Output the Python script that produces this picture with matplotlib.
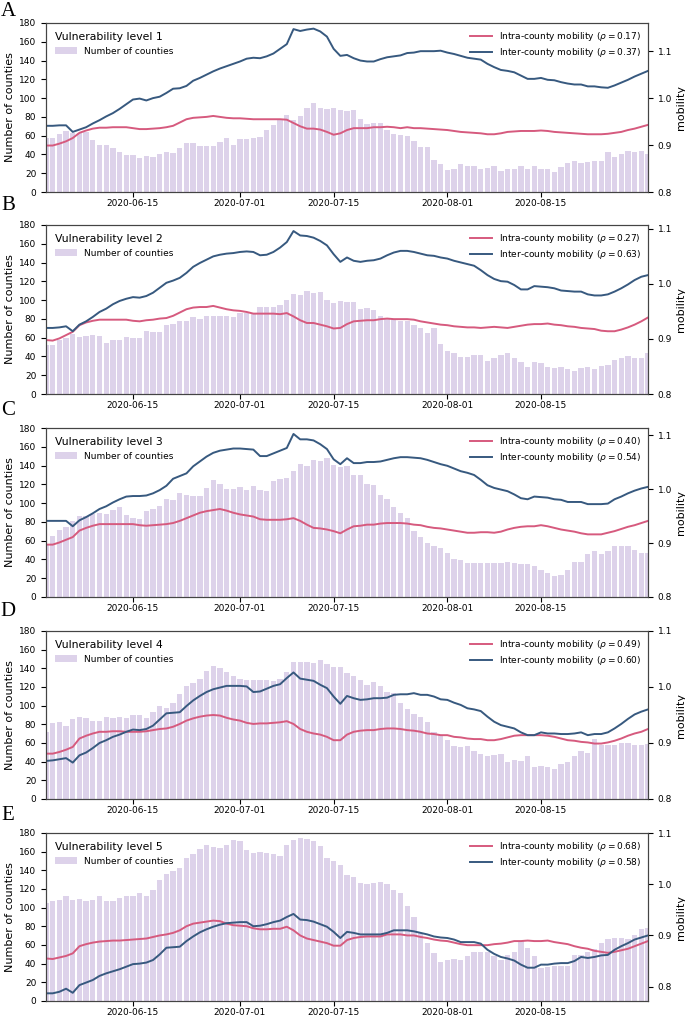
import numpy as np
import pandas as pd
import matplotlib
matplotlib.use("Agg")
import matplotlib.pyplot as plt
import matplotlib.dates as mdates

dates = pd.date_range("2020-06-02", "2020-08-31", freq="D")

# level 1
A_bars = [58, 58, 62, 65, 63, 63, 64, 55, 50, 50,
          47, 43, 39, 39, 36, 38, 37, 40, 43, 42,
          47, 52, 52, 49, 49, 49, 53, 58, 50, 56,
          56, 58, 59, 66, 71, 77, 82, 77, 81, 90,
          95, 89, 88, 89, 87, 86, 87, 78, 72, 74,
          74, 66, 62, 61, 60, 54, 48, 48, 34, 30,
          23, 25, 30, 28, 28, 24, 26, 28, 22, 24,
          25, 28, 25, 28, 25, 25, 21, 27, 31, 33,
          31, 32, 33, 33, 43, 37, 40, 44, 43, 44,
          41]
A_intra = [0.899, 0.899, 0.903, 0.908, 0.915, 0.926, 0.931, 0.935, 0.937, 0.937,
           0.938, 0.938, 0.938, 0.936, 0.934, 0.934, 0.935, 0.936, 0.938, 0.941,
           0.948, 0.955, 0.958, 0.959, 0.960, 0.962, 0.960, 0.958, 0.957, 0.957,
           0.956, 0.955, 0.955, 0.955, 0.955, 0.955, 0.954, 0.947, 0.940, 0.935,
           0.935, 0.933, 0.928, 0.922, 0.925, 0.932, 0.936, 0.936, 0.936, 0.938,
           0.938, 0.939, 0.938, 0.936, 0.938, 0.936, 0.936, 0.935, 0.934, 0.933,
           0.932, 0.930, 0.928, 0.927, 0.926, 0.925, 0.923, 0.923, 0.925, 0.928,
           0.929, 0.930, 0.930, 0.930, 0.931, 0.930, 0.928, 0.927, 0.926, 0.925,
           0.924, 0.923, 0.923, 0.923, 0.924, 0.926, 0.928, 0.932, 0.935, 0.939,
           0.943]
A_inter = [0.941, 0.941, 0.942, 0.942, 0.928, 0.933, 0.938, 0.946, 0.953, 0.961,
           0.968, 0.977, 0.987, 0.997, 0.999, 0.995, 1.000, 1.003, 1.011, 1.020,
           1.021, 1.026, 1.037, 1.043, 1.050, 1.057, 1.063, 1.068, 1.073, 1.078,
           1.084, 1.086, 1.085, 1.089, 1.095, 1.105, 1.115, 1.147, 1.143, 1.146,
           1.148, 1.142, 1.131, 1.105, 1.090, 1.092, 1.085, 1.080, 1.078, 1.078,
           1.083, 1.087, 1.089, 1.091, 1.096, 1.097, 1.100, 1.100, 1.100, 1.101,
           1.097, 1.094, 1.090, 1.086, 1.084, 1.082, 1.073, 1.066, 1.060, 1.058,
           1.055, 1.048, 1.041, 1.041, 1.043, 1.039, 1.038, 1.034, 1.031, 1.029,
           1.029, 1.025, 1.025, 1.023, 1.022, 1.027, 1.033, 1.039, 1.046, 1.052,
           1.058]

# level 2
B_bars = [52, 52, 57, 60, 64, 61, 62, 63, 62, 54,
          57, 58, 61, 60, 60, 67, 66, 66, 73, 75,
          78, 78, 82, 80, 83, 83, 83, 83, 82, 86,
          86, 85, 93, 93, 93, 95, 100, 106, 105, 110,
          108, 109, 100, 97, 99, 98, 98, 91, 92, 90,
          83, 81, 80, 78, 78, 74, 70, 65, 70, 53,
          46, 44, 39, 39, 42, 42, 35, 38, 42, 44,
          38, 34, 29, 34, 33, 29, 28, 29, 27, 25,
          28, 29, 27, 30, 31, 36, 38, 41, 38, 38,
          44]
B_intra = [0.898, 0.897, 0.901, 0.907, 0.913, 0.925, 0.930, 0.933, 0.935, 0.935,
           0.935, 0.935, 0.935, 0.933, 0.932, 0.934, 0.935, 0.937, 0.938, 0.942,
           0.948, 0.954, 0.957, 0.958, 0.958, 0.960, 0.957, 0.954, 0.952, 0.951,
           0.949, 0.946, 0.946, 0.946, 0.946, 0.945, 0.947, 0.941, 0.934, 0.929,
           0.929, 0.926, 0.923, 0.919, 0.920, 0.927, 0.932, 0.933, 0.934, 0.934,
           0.936, 0.937, 0.936, 0.936, 0.936, 0.935, 0.932, 0.930, 0.928, 0.926,
           0.925, 0.923, 0.922, 0.921, 0.921, 0.920, 0.921, 0.922, 0.921, 0.920,
           0.922, 0.924, 0.926, 0.927, 0.927, 0.928, 0.926, 0.925, 0.923, 0.922,
           0.920, 0.919, 0.918, 0.915, 0.914, 0.914, 0.917, 0.921, 0.926, 0.932,
           0.939]
B_inter = [0.920, 0.920, 0.921, 0.923, 0.914, 0.926, 0.932, 0.940, 0.949, 0.955,
           0.963, 0.969, 0.973, 0.976, 0.975, 0.978, 0.984, 0.993, 1.002, 1.006,
           1.011, 1.020, 1.031, 1.038, 1.044, 1.050, 1.053, 1.055, 1.056, 1.058,
           1.059, 1.058, 1.052, 1.053, 1.058, 1.066, 1.076, 1.096, 1.088, 1.087,
           1.084, 1.078, 1.070, 1.054, 1.040, 1.048, 1.042, 1.040, 1.042, 1.043,
           1.046, 1.052, 1.057, 1.060, 1.060, 1.058, 1.055, 1.052, 1.051, 1.048,
           1.046, 1.042, 1.039, 1.036, 1.033, 1.025, 1.016, 1.009, 1.005, 1.004,
           0.998, 0.990, 0.990, 0.996, 0.995, 0.994, 0.992, 0.988, 0.987, 0.986,
           0.986, 0.981, 0.979, 0.979, 0.981, 0.986, 0.992, 0.999, 1.007, 1.013,
           1.016]

# level 3
C_bars = [56, 65, 71, 75, 81, 86, 86, 88, 90, 88,
          93, 96, 87, 84, 83, 92, 94, 97, 104, 103,
          111, 109, 108, 108, 116, 125, 120, 115, 115, 117,
          114, 118, 114, 113, 124, 126, 127, 134, 142, 140,
          146, 145, 148, 141, 138, 139, 130, 130, 120, 119,
          109, 104, 96, 90, 84, 70, 64, 58, 54, 52,
          47, 41, 39, 36, 36, 36, 36, 36, 36, 37,
          36, 35, 35, 33, 29, 26, 22, 23, 29, 37,
          37, 46, 49, 46, 49, 54, 54, 54, 50, 47,
          47]
C_intra = [0.897, 0.897, 0.901, 0.906, 0.911, 0.923, 0.928, 0.932, 0.935, 0.935,
           0.935, 0.935, 0.935, 0.935, 0.933, 0.932, 0.933, 0.934, 0.935, 0.937,
           0.941, 0.946, 0.951, 0.956, 0.959, 0.961, 0.963, 0.960, 0.956, 0.953,
           0.951, 0.949, 0.944, 0.943, 0.943, 0.943, 0.944, 0.946, 0.941, 0.934,
           0.928, 0.927, 0.925, 0.922, 0.918, 0.925, 0.931, 0.932, 0.934, 0.934,
           0.936, 0.937, 0.937, 0.937, 0.936, 0.934, 0.933, 0.930, 0.928, 0.927,
           0.925, 0.923, 0.921, 0.919, 0.919, 0.920, 0.920, 0.919, 0.921, 0.925,
           0.928, 0.930, 0.931, 0.931, 0.933, 0.931, 0.928, 0.925, 0.923, 0.921,
           0.918, 0.916, 0.916, 0.916, 0.919, 0.922, 0.926, 0.930, 0.933, 0.937,
           0.941]
C_inter = [0.941, 0.941, 0.941, 0.941, 0.931, 0.942, 0.948, 0.955, 0.963, 0.968,
           0.975, 0.981, 0.986, 0.987, 0.987, 0.988, 0.992, 0.998, 1.006, 1.019,
           1.024, 1.029, 1.042, 1.051, 1.060, 1.067, 1.071, 1.073, 1.075, 1.075,
           1.074, 1.073, 1.061, 1.061, 1.066, 1.071, 1.076, 1.102, 1.092, 1.092,
           1.090, 1.083, 1.074, 1.055, 1.046, 1.057, 1.048, 1.048, 1.050, 1.050,
           1.051, 1.054, 1.057, 1.059, 1.059, 1.058, 1.057, 1.054, 1.050, 1.046,
           1.043, 1.038, 1.033, 1.030, 1.026, 1.017, 1.007, 1.002, 0.999, 0.996,
           0.990, 0.983, 0.981, 0.986, 0.985, 0.984, 0.981, 0.980, 0.976, 0.976,
           0.976, 0.972, 0.972, 0.972, 0.973, 0.981, 0.986, 0.992, 0.997, 1.001,
           1.004]

# level 4
D_bars = [72, 81, 83, 78, 86, 88, 87, 84, 84, 88,
          87, 88, 87, 90, 90, 87, 93, 100, 97, 103,
          113, 121, 124, 129, 137, 143, 140, 136, 132, 129,
          128, 128, 127, 127, 126, 129, 136, 147, 147, 147,
          146, 149, 145, 141, 141, 135, 132, 128, 122, 125,
          121, 115, 114, 103, 96, 91, 88, 83, 72, 69,
          63, 57, 56, 57, 51, 48, 46, 47, 48, 40,
          42, 41, 46, 34, 35, 34, 32, 38, 40, 46,
          51, 49, 64, 58, 58, 58, 60, 60, 58, 58,
          59]
D_intra = [0.881, 0.881, 0.884, 0.888, 0.893, 0.908, 0.913, 0.917, 0.920, 0.920,
           0.921, 0.921, 0.920, 0.920, 0.920, 0.921, 0.923, 0.925, 0.926, 0.929,
           0.934, 0.940, 0.944, 0.947, 0.949, 0.950, 0.949, 0.945, 0.942, 0.940,
           0.936, 0.934, 0.935, 0.935, 0.936, 0.937, 0.939, 0.934, 0.925, 0.920,
           0.917, 0.915, 0.911, 0.905, 0.905, 0.915, 0.920, 0.922, 0.923, 0.923,
           0.925, 0.926, 0.926, 0.925, 0.923, 0.922, 0.920, 0.917, 0.916, 0.914,
           0.914, 0.911, 0.910, 0.908, 0.907, 0.907, 0.905, 0.905, 0.907, 0.910,
           0.913, 0.914, 0.914, 0.914, 0.914, 0.913, 0.911, 0.908, 0.905, 0.904,
           0.902, 0.901, 0.899, 0.899, 0.901, 0.904, 0.908, 0.913, 0.917, 0.920,
           0.925]
D_inter = [0.868, 0.869, 0.871, 0.873, 0.865, 0.878, 0.883, 0.891, 0.900, 0.905,
           0.911, 0.915, 0.920, 0.924, 0.923, 0.925, 0.931, 0.942, 0.953, 0.954,
           0.955, 0.966, 0.976, 0.984, 0.991, 0.996, 0.999, 1.002, 1.002, 1.002,
           1.001, 0.991, 0.992, 0.997, 1.002, 1.005, 1.016, 1.026, 1.015, 1.013,
           1.011, 1.004, 0.998, 0.983, 0.970, 0.984, 0.980, 0.977, 0.978, 0.980,
           0.980, 0.981, 0.986, 0.987, 0.987, 0.989, 0.986, 0.986, 0.983, 0.978,
           0.977, 0.972, 0.968, 0.962, 0.960, 0.957, 0.947, 0.938, 0.932, 0.929,
           0.926, 0.919, 0.914, 0.914, 0.919, 0.917, 0.917, 0.916, 0.916, 0.917,
           0.919, 0.914, 0.916, 0.916, 0.919, 0.926, 0.934, 0.943, 0.951, 0.956,
           0.960]

# level 5
E_bars = [105, 107, 108, 112, 108, 109, 107, 108, 112, 107,
          107, 110, 112, 112, 116, 113, 119, 130, 136, 139,
          142, 153, 158, 163, 167, 165, 164, 167, 172, 171,
          162, 159, 160, 159, 158, 155, 167, 173, 175, 174,
          171, 166, 153, 150, 146, 135, 133, 126, 125, 126,
          127, 125, 119, 116, 102, 90, 73, 62, 51, 42,
          44, 45, 44, 48, 52, 52, 52, 48, 44, 49,
          53, 64, 57, 48, 35, 36, 37, 38, 37, 49,
          49, 53, 56, 62, 66, 68, 68, 66, 71, 77,
          78]
E_intra = [0.855, 0.854, 0.857, 0.860, 0.865, 0.879, 0.883, 0.886, 0.888, 0.889,
           0.890, 0.890, 0.891, 0.892, 0.893, 0.894, 0.897, 0.900, 0.902, 0.905,
           0.910, 0.918, 0.923, 0.925, 0.927, 0.929, 0.928, 0.923, 0.920, 0.919,
           0.918, 0.914, 0.912, 0.912, 0.913, 0.913, 0.917, 0.910, 0.900, 0.894,
           0.891, 0.888, 0.885, 0.880, 0.880, 0.891, 0.895, 0.897, 0.898, 0.898,
           0.898, 0.902, 0.902, 0.902, 0.900, 0.900, 0.897, 0.895, 0.892, 0.890,
           0.889, 0.886, 0.883, 0.881, 0.881, 0.881, 0.881, 0.883, 0.884, 0.886,
           0.889, 0.889, 0.890, 0.889, 0.889, 0.890, 0.887, 0.885, 0.883, 0.879,
           0.876, 0.874, 0.870, 0.868, 0.866, 0.868, 0.871, 0.874, 0.879, 0.884,
           0.889]
E_inter = [0.787, 0.787, 0.790, 0.796, 0.788, 0.803, 0.808, 0.813, 0.821, 0.826,
           0.830, 0.834, 0.839, 0.844, 0.845, 0.847, 0.852, 0.863, 0.876, 0.877,
           0.878, 0.889, 0.898, 0.906, 0.912, 0.917, 0.921, 0.924, 0.925, 0.926,
           0.926, 0.918, 0.919, 0.922, 0.926, 0.929, 0.936, 0.942, 0.931, 0.930,
           0.927, 0.922, 0.917, 0.907, 0.895, 0.907, 0.905, 0.902, 0.902, 0.902,
           0.902, 0.905, 0.910, 0.910, 0.910, 0.908, 0.905, 0.902, 0.898, 0.896,
           0.895, 0.892, 0.887, 0.887, 0.887, 0.884, 0.872, 0.864, 0.858, 0.855,
           0.851, 0.843, 0.837, 0.837, 0.843, 0.843, 0.845, 0.846, 0.846, 0.850,
           0.858, 0.856, 0.858, 0.861, 0.862, 0.872, 0.879, 0.885, 0.892, 0.896,
           0.900]

letters = ["A", "B", "C", "D", "E"]
rho_intra = ["0.17", "0.27", "0.40", "0.49", "0.68"]
rho_inter = ["0.37", "0.63", "0.54", "0.60", "0.58"]
bars = [A_bars, B_bars, C_bars, D_bars, E_bars]
intra = [A_intra, B_intra, C_intra, D_intra, E_intra]
inter = [A_inter, B_inter, C_inter, D_inter, E_inter]
mob_lims = [(0.8, 1.16), (0.8, 1.107), (0.8, 1.113), (0.8, 1.1), (0.772, 1.1)]

BAR_C = "#ddd2ea"
RED = "#d65a7e"
BLUE = "#37597f"

W, H = 685, 1017
fig = plt.figure(figsize=(W / 100, H / 100), dpi=100)

tops = [23, 225, 428, 631, 833]
heights = [169, 169, 169, 168, 168]
letter_y = [12, 205, 410, 612, 815]
left_px, right_px = 46, 648

for k in range(5):
    ax = fig.add_axes([left_px / W, 1 - (tops[k] + heights[k]) / H,
                       (right_px - left_px) / W, heights[k] / H])
    ax.bar(dates, bars[k], width=0.8, color=BAR_C, edgecolor="none",
           label="Number of counties")
    ax.set_ylim(0, 180)
    ax.set_yticks(range(0, 181, 20))
    ax.set_xlim(dates[0], dates[-1])
    ax.set_ylabel("Number of counties", fontsize=8, labelpad=3)
    ax.tick_params(labelsize=6.5)
    ax.tick_params(axis="x", pad=1.5)
    ax.xaxis.set_major_locator(mdates.DayLocator(bymonthday=[1, 15]))
    ax.xaxis.set_major_formatter(mdates.DateFormatter("%Y-%m-%d"))
    ax.legend(loc="upper left", frameon=False, fontsize=6.5,
              title=f"Vulnerability level {k + 1}", title_fontsize=7.8,
              alignment="left", handlelength=2.4, borderaxespad=0.6)

    ax2 = ax.twinx()
    ax2.plot(dates, intra[k], color=RED, lw=1.4,
             label=f"Intra-county mobility ($\\rho = {rho_intra[k]}$)")
    ax2.plot(dates, inter[k], color=BLUE, lw=1.4,
             label=f"Inter-county mobility ($\\rho = {rho_inter[k]}$)")
    ax2.set_ylim(*mob_lims[k])
    ax2.set_yticks([0.8, 0.9, 1.0, 1.1])
    ax2.set_ylabel("mobility", fontsize=8, labelpad=3)
    ax2.tick_params(labelsize=6.5)
    ax2.legend(loc="upper right", frameon=False, fontsize=6.5,
               handlelength=2.4, borderaxespad=0.35, labelspacing=0.35)
    for a in (ax, ax2):
        for s in a.spines.values():
            s.set_color("#444444")

    fig.text(8 / W, 1 - letter_y[k] / H, letters[k], fontsize=15,
             family="Liberation Serif", ha="center", va="center")

fig.savefig("out.png", dpi=100)
